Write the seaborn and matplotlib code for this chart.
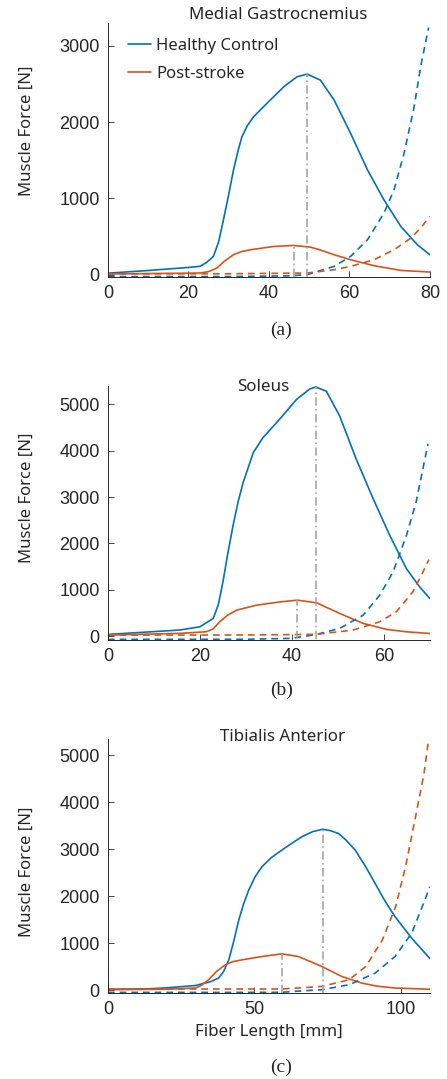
import numpy as np
import pandas as pd
import matplotlib
matplotlib.use('Agg')
import matplotlib.pyplot as plt
import seaborn as sns

# ---- data ----
titles = ['Medial Gastrocnemius', 'Soleus', 'Tibialis Anterior']
panel_tags = ['(a)', '(b)', '(c)']
series_names = ['Healthy Control', 'Post-stroke']
x_limits = [(0, 80), (0, 70), (0, 110)]
y_limits = [(-30, 3300), (-85, 5400), (-55, 5350)]
x_ticks = [[0, 20, 40, 60, 80], [0, 20, 40, 60], [0, 50, 100]]
y_ticks = [[0, 1000, 2000, 3000], [0, 1000, 2000, 3000, 4000, 5000],
           [0, 1000, 2000, 3000, 4000, 5000]]

# medial gastrocnemius (solid = total, dashed = passive)
mg_hc_x = [0, 10, 20, 22.9, 24.5, 26.2, 27.5, 28.7, 30, 31.2, 32.3, 33.3, 34.7, 36.2, 39.5, 43.7,
           47.0, 49.5, 52.8, 56.2, 60.3, 64.5, 68.6, 72.8, 76.9, 80]
mg_hc_f = [20, 55, 95, 110, 160, 240, 430, 720, 1050, 1374, 1620, 1810, 1960, 2071, 2246, 2464,
           2595, 2630, 2551, 2290, 1854, 1374, 981, 632, 392, 262]
mg_ps_x = [0, 20, 22.9, 25, 27.1, 29, 31.2, 33, 35.4, 41.2, 46.2, 50.3, 53, 56.2, 60.3, 66.1, 72.8, 80]
mg_ps_f = [10, 20, 22, 40, 88, 180, 262, 300, 327, 370, 383, 362, 320, 262, 196, 118, 56, 35]
mg_hc_px = [0, 30, 45, 49.5, 56.2, 60.3, 64.5, 68.6, 71.1, 73.6, 76.1, 77.7, 79.7]
mg_hc_pf = [-25, -24, -15, 0, 109, 240, 458, 807, 1112, 1592, 2202, 2725, 3240]
mg_ps_px = [0, 30, 49.5, 56.2, 60.3, 66.1, 71.1, 75.3, 77.7, 80]
mg_ps_pf = [10, 12, 22, 65, 109, 196, 327, 480, 611, 763]

# soleus
sol_hc_x = [0, 10, 15.6, 20, 22.9, 24, 25, 26, 27.2, 28.3, 29.4, 31.6, 33.7, 37.3, 41.0, 43.9, 45.2,
            47.5, 50.4, 54.0, 57.7, 61.3, 64.9, 67.8, 70]
sol_hc_f = [35, 95, 129, 200, 380, 680, 1167, 1750, 2385, 2900, 3316, 3960, 4283, 4678, 5108, 5336,
            5378, 5286, 4749, 3818, 2959, 2170, 1455, 1059, 810]
sol_ps_x = [0, 15.6, 21.4, 22.8, 24.3, 26, 28.0, 32.3, 37.4, 41.2, 45.4, 50.4, 55.5, 60.6, 65, 70]
sol_ps_f = [20, 57, 92, 150, 307, 450, 559, 666, 737, 774, 716, 487, 272, 143, 90, 55]
sol_hc_px = [0, 30, 40, 45.4, 50.4, 55.5, 59.1, 62.0, 64.9, 67.0, 69.6]
sol_hc_pf = [-72, -70, -50, 36, 165, 451, 881, 1382, 2170, 2886, 4150]
sol_ps_px = [0, 30, 45.4, 53.3, 59.1, 62.7, 66.3, 68.5, 69.8]
sol_ps_pf = [20, 22, 36, 129, 307, 522, 952, 1382, 1650]

# tibialis anterior
ta_hc_x = [0, 14, 20, 30, 32.2, 35, 37.8, 39.5, 41.3, 43, 44.7, 46.4, 48.1, 50.3, 52.6, 55.9, 59.4,
           62.8, 66.2, 70, 73.4, 76, 78.8, 81.5, 84.5, 88, 91.3, 94.6, 98.1, 103.8, 110]
ta_hc_f = [25, 35, 55, 105, 142, 185, 263, 400, 651, 1050, 1500, 1850, 2136, 2420, 2631, 2830, 2985,
           3130, 3267, 3380, 3430, 3400, 3339, 3190, 2985, 2640, 2278, 1910, 1570, 1111, 680]
ta_ps_x = [0, 20, 29.9, 32, 34.4, 37, 40.1, 42.5, 45.8, 52.6, 59.4, 65.1, 73.1, 79.9, 86.7, 92, 98.1, 110]
ta_ps_f = [15, 25, 51, 110, 227, 400, 545, 610, 651, 721, 778, 721, 509, 297, 157, 90, 51, 25]
ta_hc_px = [0, 40, 59.4, 65, 73.1, 82.4, 91.3, 98.1, 103.8, 108.3, 110]
ta_hc_pf = [-42, -42, -40, -15, 15, 121, 369, 721, 1217, 1924, 2205]
ta_ps_px = [0, 40, 59.4, 73.1, 82.4, 88.1, 93.8, 98.3, 101.7, 105.1, 108, 109.6]
ta_ps_pf = [30, 30, 30, 85, 227, 509, 1075, 1782, 2631, 3691, 4610, 5350]

# optimal fiber length markers (healthy, post-stroke)
peak_x = [[49.5, 46.2], [45.2, 41.2], [73.4, 59.4]]
peak_top = [[2630, 383], [5378, 774], [3430, 778]]
peak_bottom = [[-25, -25], [-60, -60], [-45, -45]]

active = [[(mg_hc_x, mg_hc_f), (mg_ps_x, mg_ps_f)],
          [(sol_hc_x, sol_hc_f), (sol_ps_x, sol_ps_f)],
          [(ta_hc_x, ta_hc_f), (ta_ps_x, ta_ps_f)]]
passive = [[(mg_hc_px, mg_hc_pf), (mg_ps_px, mg_ps_pf)],
           [(sol_hc_px, sol_hc_pf), (sol_ps_px, sol_ps_pf)],
           [(ta_hc_px, ta_hc_pf), (ta_ps_px, ta_ps_pf)]]

colors = ['#0072BD', '#D95319']

# title / label placement (axes fraction)
title_pos = [(0.528, 1.031), (0.481, 0.996), (0.543, 1.008)]
ylabel_y = [0.575, 0.559, 0.476]
tag_y = [330, 690, 1067]

sns.set_style('ticks')
plt.rcParams['font.family'] = ['Noto Sans', 'DejaVu Sans']

fig = plt.figure(figsize=(4.47, 10.79), dpi=100)
bottoms = [0.7433, 0.4069, 0.0797]

for i in range(3):
    ax = fig.add_axes([0.2416, bottoms[i], 0.720, 0.2354])

    for j in range(2):
        df = pd.DataFrame({'x': active[i][j][0], 'y': active[i][j][1]})
        sns.lineplot(data=df, x='x', y='y', ax=ax, color=colors[j], lw=1.2,
                     label=series_names[j] if i == 0 else None, sort=False)
    for j in range(2):
        df = pd.DataFrame({'x': passive[i][j][0], 'y': passive[i][j][1]})
        sns.lineplot(data=df, x='x', y='y', ax=ax, color=colors[j], lw=1.2,
                     sort=False, linestyle=(0, (4, 3)))
    ax.vlines(peak_x[i], peak_bottom[i], peak_top[i], colors='#A5A5A5',
              linestyles=(0, (5, 2, 1, 2)), lw=1.2, zorder=3)

    ax.set_xlim(*x_limits[i])
    ax.set_ylim(*y_limits[i])
    ax.set_xticks(x_ticks[i])
    ax.set_yticks(y_ticks[i])
    ax.tick_params(direction='in', length=4, width=0.6, colors='#262626',
                   labelsize=13, pad=6)
    for lab in ax.get_xticklabels() + ax.get_yticklabels():
        lab.set_family('Liberation Sans')
    for s in ['left', 'bottom']:
        ax.spines[s].set_linewidth(0.7)
        ax.spines[s].set_color('#262626')
    sns.despine(ax=ax)

    ax.set_ylabel('Muscle Force [N]', fontsize=12)
    ax.yaxis.set_label_coords(-0.227, ylabel_y[i])
    if i == 2:
        ax.set_xlabel('Fiber Length [mm]', fontsize=12.2, labelpad=4)
    else:
        ax.set_xlabel('')
    ax.text(title_pos[i][0], title_pos[i][1], titles[i], transform=ax.transAxes,
            ha='center', va='center', fontsize=12.2)

    fig.text(0.629, 1 - tag_y[i] / 1079, panel_tags[i],
             family='Liberation Serif', fontsize=14, ha='center', va='center')

    if i == 0:
        ax.legend(loc='upper left', frameon=False, fontsize=12, handlelength=1.4,
                  handletextpad=0.3, borderaxespad=0.2, labelspacing=0.7,
                  bbox_to_anchor=(0.03, 0.98))

fig.savefig('out.png', dpi=100)
